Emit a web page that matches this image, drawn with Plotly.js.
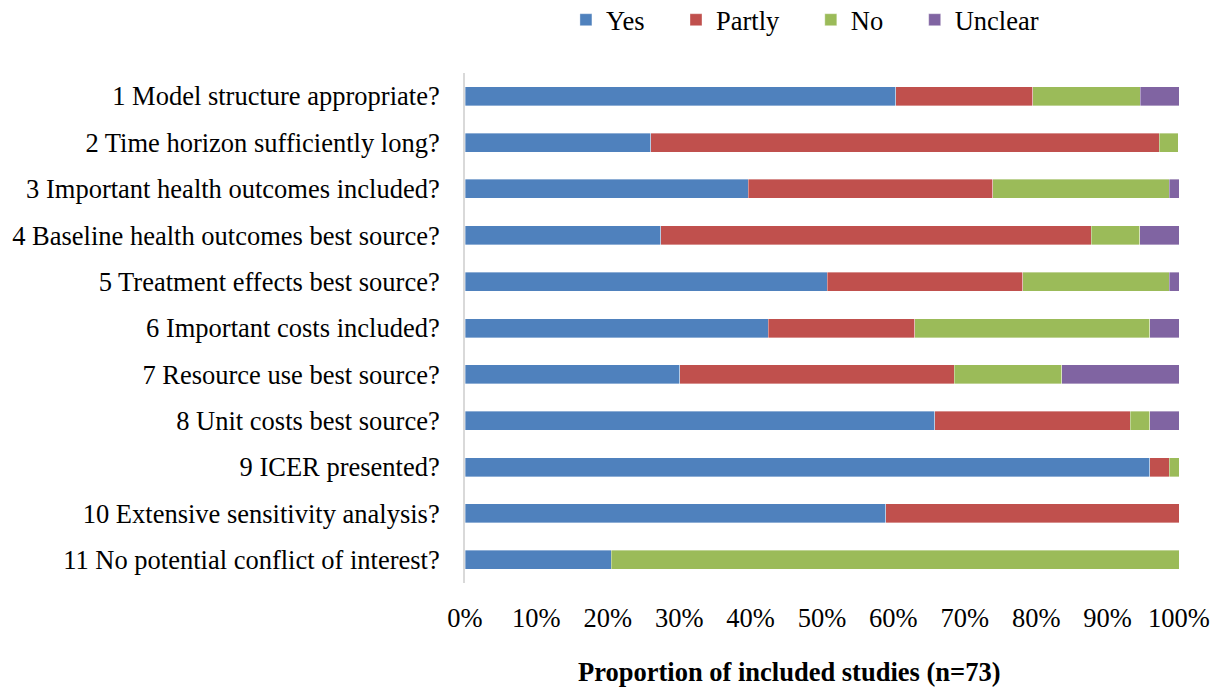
<!DOCTYPE html>
<html><head><meta charset="utf-8">
<script src="https://cdn.plot.ly/plotly-3.0.1.min.js"></script>
<style>html,body{margin:0;padding:0;background:#fff}#chart{width:1221px;height:689px}</style>
</head><body><div id="chart"></div>
<script>
const questions = [
  "1 Model structure appropriate?",
  "2 Time horizon sufficiently long?",
  "3 Important health outcomes included?",
  "4 Baseline health outcomes best source?",
  "5 Treatment effects best source?",
  "6 Important costs included?",
  "7 Resource use best source?",
  "8 Unit costs best source?",
  "9 ICER presented?",
  "10 Extensive sensitivity analysis?",
  "11 No potential conflict of interest?"
];
// percentages of included studies (n=73)
const yes     = [60.3, 26.0, 39.7, 27.4, 50.7, 42.5, 30.1, 65.8, 95.9, 58.9, 20.5];
const partly  = [19.2, 71.2, 34.2, 60.3, 27.4, 20.5, 38.4, 27.4,  2.7, 41.1,  0.0];
const no      = [15.1,  2.7, 24.7,  6.8, 20.5, 32.9, 15.1,  2.7,  1.4,  0.0, 79.5];
const unclear = [ 5.5,  0.0,  1.4,  5.5,  1.4,  4.1, 16.4,  4.1,  0.0,  0.0,  0.0];
const seriesNames = ["Yes", "Partly", "No", "Unclear"];
const xTicks = [0,10,20,30,40,50,60,70,80,90,100];
const xTickLabels = ["0%","10%","20%","30%","40%","50%","60%","70%","80%","90%","100%"];
const xTitle = "Proportion of included studies (n=73)";

function tr(name, vals, color){
  return {type:'bar', orientation:'h', name:name + '\u00a0\u00a0\u00a0\u00a0', x:vals, y:questions,
    marker:{color:color, line:{color:'rgba(255,255,255,0.6)', width:0.6}},
    hoverinfo:'x+name'};
}
const data = [
  tr(seriesNames[0], yes, '#4F81BD'),
  tr(seriesNames[1], partly, '#C0504D'),
  tr(seriesNames[2], no, '#9BBB59'),
  tr(seriesNames[3], unclear, '#8064A2')
];
const fam = '"Liberation Serif", "Times New Roman", serif';
const fs = 26.5;
const layout = {
  width:1221, height:689,
  margin:{l:465, r:42, t:73, b:106, autoexpand:false},
  barmode:'stack', bargap:0.59,
  font:{family:fam, size:fs, color:'#000'},
  paper_bgcolor:'#fff', plot_bgcolor:'#fff',
  showlegend:true,
  legend:{orientation:'h', x:0.495, xanchor:'center', xref:'paper',
    y:1-20/689, yref:'container', yanchor:'middle',
    font:{family:fam, size:fs, color:'#000'}, traceorder:'normal', itemwidth:30},
  xaxis:{range:[0,100], tickvals:xTicks, ticktext:xTickLabels, showgrid:false, zeroline:false,
    showline:false, ticks:'', ticklabelstandoff:16, fixedrange:true},
  yaxis:{categoryorder:'array', categoryarray:questions, autorange:'reversed',
    showline:true, linecolor:'#d9d9d9', linewidth:2, showgrid:false, zeroline:false,
    ticks:'', ticklabelstandoff:18, fixedrange:true},
  annotations:[{text:'<b>' + xTitle + '</b>', xref:'paper', yref:'paper',
    x:(789-465)/714, y:-(672-583)/510, xanchor:'center', yanchor:'middle', showarrow:false,
    font:{family:fam, size:fs, color:'#000'}}]
};
Plotly.newPlot('chart', data, layout, {displayModeBar:false, staticPlot:true});
</script></body></html>
